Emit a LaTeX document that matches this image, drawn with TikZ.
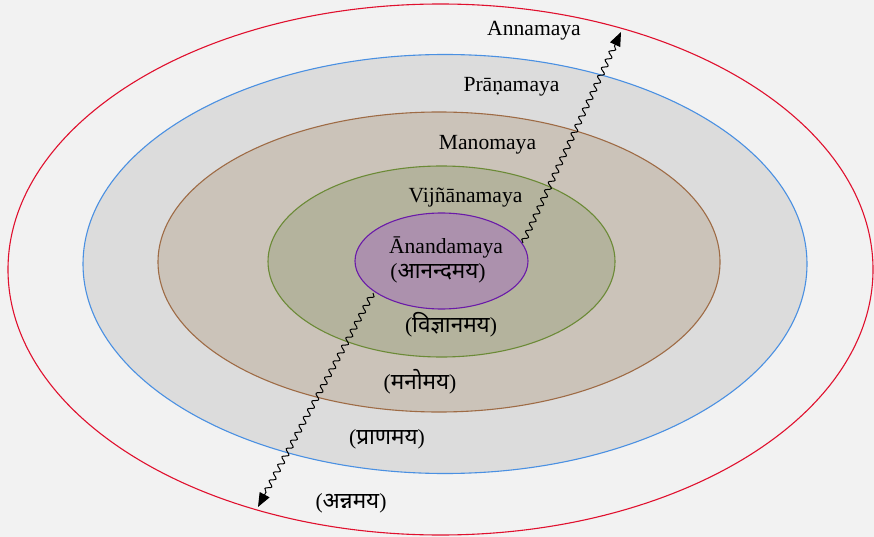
\documentclass[tikz,border=0pt]{standalone}
\usepackage{fontspec}
\setmainfont{Liberation Serif}
\newfontfamily\deva[Script=Devanagari]{Noto Sans}
\usetikzlibrary{shapes.geometric,decorations.pathmorphing,arrows.meta}
\definecolor{bg}{HTML}{F2F2F2}
\definecolor{redline}{HTML}{E0102E}
\definecolor{blueline}{HTML}{4A90E2}
\definecolor{bluefill}{HTML}{DCDCDC}
\definecolor{brownline}{HTML}{9E6B45}
\definecolor{brownfill}{HTML}{CBC3B9}
\definecolor{greenline}{HTML}{6B8A36}
\definecolor{greenfill}{HTML}{B4B39D}
\definecolor{purpleline}{HTML}{6A1AA8}
\definecolor{purplefill}{HTML}{AC91AD}
\begin{document}
\begin{tikzpicture}[x=1pt,y=-1pt,
  layer/.style={ellipse,inner sep=0pt,line width=1.1pt},
  lbl/.style={font=\fontsize{21.6}{24}\selectfont,inner sep=0pt,anchor=base},
  dlbl/.style={font=\fontsize{21.6}{24}\selectfont,inner sep=0pt},
  wavy/.style={draw,line width=1pt,decorate,decoration={snake,amplitude=2.7pt,segment length=9pt,post length=13pt},-{Triangle[length=14pt,width=11pt]}}]
\useasboundingbox (0,0) rectangle (874,537);
\fill[bg] (0,0) rectangle (874,537);
\node[layer,draw=redline,minimum width=865pt,minimum height=531pt] (anna) at (440.5,269.5) {};
\node[layer,draw=blueline,fill=bluefill,minimum width=724pt,minimum height=419pt] (prana) at (445,264) {};
\node[layer,draw=brownline,fill=brownfill,minimum width=562pt,minimum height=300pt] (mano) at (439,262) {};
\node[layer,draw=greenline,fill=greenfill,minimum width=347pt,minimum height=191pt] (vij) at (441.5,261.5) {};
\node[layer,draw=purpleline,fill=purplefill,minimum width=173pt,minimum height=96pt] (ana) at (441.5,261) {};
% labels
\node[lbl] (tanna) at (534,36) {Annamaya};
\node[lbl] (tprana) at (511.5,92) {Prāṇamaya};
\node[lbl] (tmano) at (487.5,150) {Manomaya};
\node[lbl] (tvij) at (465.5,203) {Vijñānamaya};
\node[lbl] (tana) at (446,253) {Ānandamaya};
\node[dlbl] (dana) at (438,273) {({\deva\fontsize{22.5}{24}\selectfont आनन्दमय})};
\node[dlbl] (dvij) at (451,325) {({\deva\fontsize{22.5}{24}\selectfont विज्ञानमय})};
\node[dlbl] (dmano) at (420,382) {({\deva\fontsize{22.5}{24}\selectfont मनोमय})};
\node[dlbl] (dprana) at (387,439) {({\deva\fontsize{22.5}{24}\selectfont प्राणमय})};
\node[dlbl] (danna) at (351,503) {({\deva\fontsize{22.5}{24}\selectfont अन्नमय})};
% wavy arrows
\coordinate (lowstart) at (373,293);
\coordinate (lowend) at (258,507);
\coordinate (upstart) at (523,243);
\coordinate (upend) at (621,32);
\path[wavy] (lowstart) -- (lowend);
\path[wavy] (upstart) -- (upend);
\end{tikzpicture}
\end{document}
